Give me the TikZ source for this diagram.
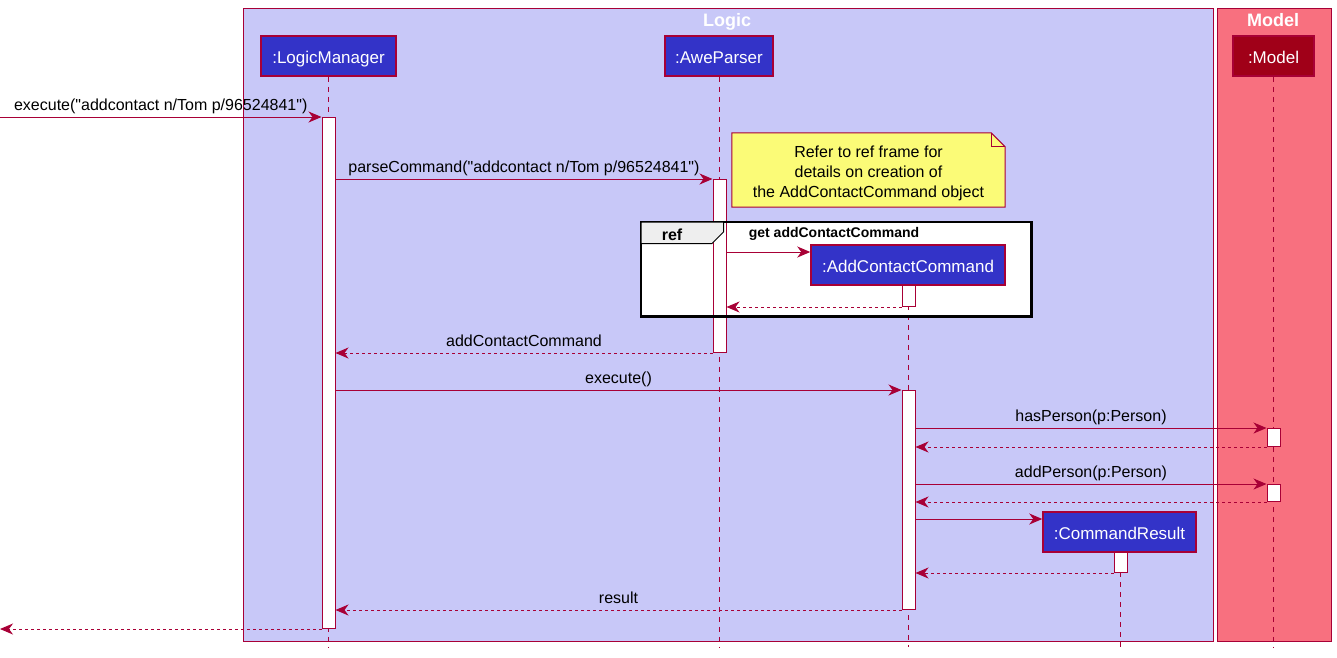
\documentclass[tikz,border=0pt]{standalone}
\usepackage{fontspec}
\setmainfont{Liberation Sans}
\usetikzlibrary{arrows.meta}
\definecolor{ln}{HTML}{A80036}
\definecolor{logicfill}{HTML}{C8C8F8}
\definecolor{modelfill}{HTML}{F8707F}
\definecolor{partfill}{HTML}{3333C8}
\definecolor{modelpart}{HTML}{A00018}
\definecolor{notefill}{HTML}{FBFB77}
\definecolor{tabfill}{HTML}{EEEEEE}
\newcommand\lblfont{\fontsize{16pt}{20pt}\selectfont}
\newcommand\partfont{\fontsize{17pt}{20pt}\selectfont}
\newcommand\qq{\textquotedbl}
\tikzset{
 lane/.style={draw=ln, line width=1pt, anchor=north west, inner sep=0pt},
 lanetitle/.style={text=white, font=\fontsize{18pt}{20pt}\selectfont\bfseries, text height=13pt, text depth=0pt, inner sep=0pt},
 part/.style={draw=ln, line width=1.5pt, fill=partfill, text=white, font=\partfont, minimum height=40pt, inner sep=0pt, text height=14pt, text depth=0pt},
 life/.style={draw=ln, line width=1pt, dash pattern=on 5pt off 5pt},
 actbar/.style={draw=ln, fill=white, line width=1pt, minimum width=13pt, inner sep=0pt, anchor=north},
 msg/.style={draw=ln, line width=1pt, -{Stealth[length=13pt,width=11pt,inset=4pt]}},
 ret/.style={msg, dash pattern=on 3pt off 3pt},
 lbl/.style={font=\lblfont, text=black, above, inner sep=2pt, text depth=4pt},
}
\begin{document}
\begin{tikzpicture}[x=1pt,y=-1pt]
\useasboundingbox (0,0) rectangle (1337,657);
% lanes
\node[lane, fill=logicfill, minimum width=970pt, minimum height=633pt] (logicbox) at (243,8) {};
\node[lane, fill=modelfill, minimum width=114pt, minimum height=633pt] (modelbox) at (1217,8) {};
\node[lanetitle] (logictitle) at (727,19.5) {Logic};
\node[lanetitle] (modeltitle) at (1273,20) {Model};
% ref frame (fill)
\node[fill=white, minimum width=390pt, minimum height=94pt, anchor=north west, inner sep=0pt] (ref) at (641,222) {};
% note
\node[minimum width=273pt, minimum height=74pt, inner sep=0pt] (note) at (868.5,170) {};
\draw[ln, line width=1pt, fill=notefill] (note.north west) -- ([xshift=-14pt]note.north east) -- ([yshift=-14pt]note.north east) -- (note.south east) -- (note.south west) -- cycle;
\draw[ln, line width=1pt] ([xshift=-14pt]note.north east) -- ([xshift=-14pt,yshift=-14pt]note.north east) -- ([yshift=-14pt]note.north east);
\node[align=center, font=\lblfont, inner sep=0pt] (notetext) at ([yshift=-3pt]note.center) {Refer to ref frame for\\details on creation of\\the AddContactCommand object};
% participants
\node[part, minimum width=135pt] (lm) at (328.5,56) {:LogicManager};
\node[part, minimum width=108pt] (ap) at (719,56) {:AweParser};
\node[part, minimum width=81pt, fill=modelpart] (md) at (1273.5,56) {:Model};
% lifelines
\coordinate (lmend) at (328.5,647);
\coordinate (apend) at (719,647);
\coordinate (accend) at (908.5,647);
\coordinate (crend) at (1120.5,647);
\coordinate (mdend) at (1273.5,647);
\draw[life] (lm.south) -- (lmend);
\draw[life] (ap.south) -- (apend);
\draw[life] (908.5,285) -- (accend);
\draw[life] (1120.5,552) -- (crend);
\draw[life] (md.south) -- (mdend);
% activations
\node[actbar, minimum height=511pt] (lmact) at (328.5,117) {};
\node[actbar, minimum height=173pt] (apact) at (719.5,179) {};
\node[actbar, minimum height=21pt] (accact1) at (908.5,285) {};
\node[actbar, minimum height=219pt] (accact2) at (908.5,390) {};
\node[actbar, minimum height=18pt] (mdact1) at (1273.5,428) {};
\node[actbar, minimum height=17pt] (mdact2) at (1273.5,484) {};
\node[actbar, minimum height=20pt] (cract) at (1120.5,552) {};
% ref frame border and tab
\draw[black, line width=2.5pt] (ref.north west) rectangle (ref.south east);
\draw[black, line width=1pt, fill=tabfill] (ref.north west) -- (723.5,222) -- (723.5,232) -- (712,243.5) -- (641,243.5) -- cycle;
\node[font=\fontsize{16pt}{18pt}\selectfont\bfseries] (reflbl) at (672,235) {ref};
\node[font=\fontsize{14pt}{16pt}\selectfont\bfseries] (refname) at (834,234) {get addContactCommand};
% created participants
\node[part, minimum width=194pt] (acc) at (908,265) {:AddContactCommand};
\node[part, minimum width=153pt] (cr) at (1119.5,532) {:CommandResult};
% messages
\coordinate (src) at (0,117);
\coordinate (dst) at (0,627);
\coordinate (c1) at (0,252);
\coordinate (c2) at (0,519);
\draw[msg] (src |- lmact.north) -- node[lbl]{execute(\qq addcontact n/Tom p/96524841\qq)} (lmact.north west);
\draw[msg] (lmact.east |- apact.north) -- node[lbl]{parseCommand(\qq addcontact n/Tom p/96524841\qq)} (apact.north west);
\draw[msg] (apact.east |- c1) -- (acc.west |- c1);
\draw[ret] (accact1.south west) -- (apact.east |- accact1.south);
\draw[ret] (apact.south west) -- node[lbl]{addContactCommand} (lmact.east |- apact.south);
\draw[msg] (lmact.east |- accact2.north) -- node[lbl]{execute()} (accact2.north west);
\draw[msg] (accact2.east |- mdact1.north) -- node[lbl]{hasPerson(p:Person)} (mdact1.north west);
\draw[ret] (mdact1.south west) -- (accact2.east |- mdact1.south);
\draw[msg] (accact2.east |- mdact2.north) -- node[lbl]{addPerson(p:Person)} (mdact2.north west);
\draw[ret] (mdact2.south west) -- (accact2.east |- mdact2.south);
\draw[msg] (accact2.east |- c2) -- (cr.west |- c2);
\draw[ret] (cract.south west) -- (accact2.east |- cract.south);
\draw[ret] (accact2.south west) -- node[lbl]{result} (lmact.east |- accact2.south);
\draw[ret] (lmact.south west) -- (dst |- lmact.south);
\end{tikzpicture}
\end{document}
